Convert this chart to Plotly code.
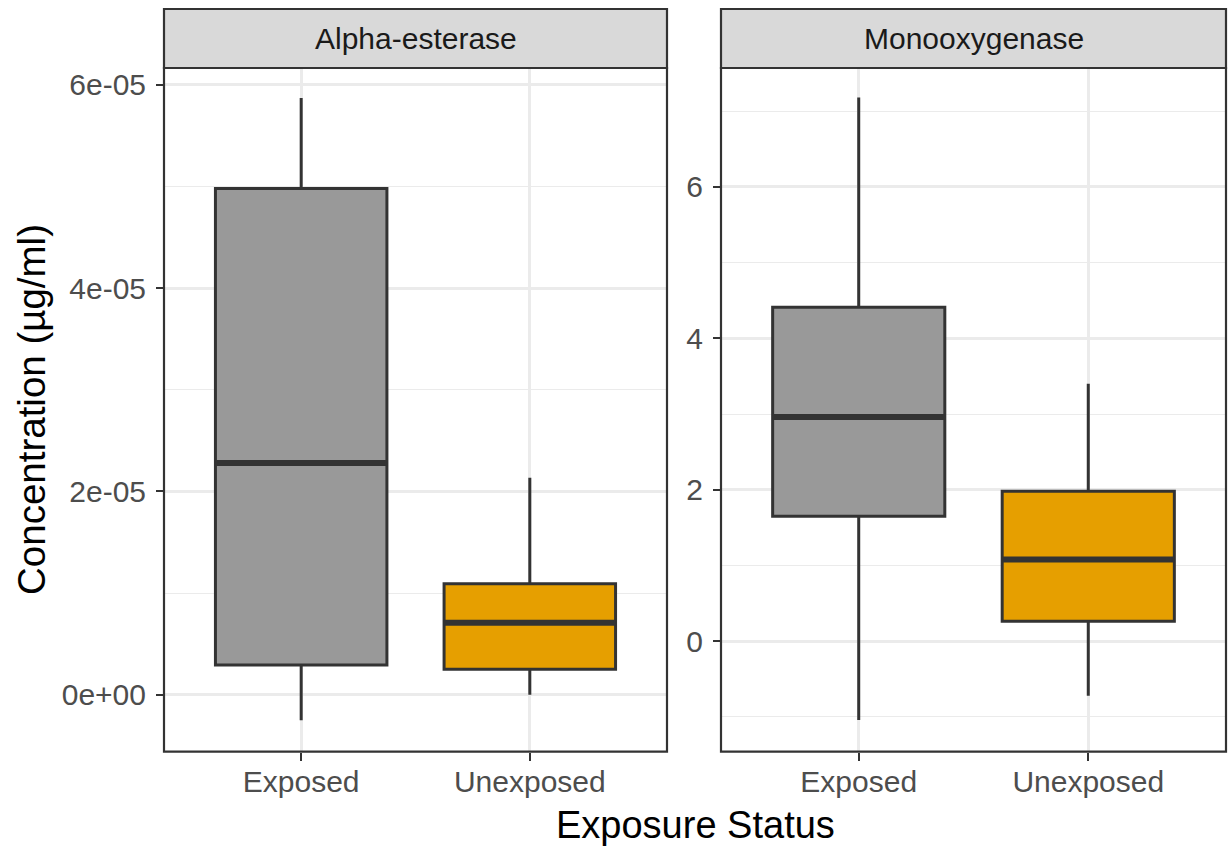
import plotly.graph_objects as go

# Facet panels and exposure groups
panels = ["Alpha-esterase", "Monooxygenase"]
groups = ["Exposed", "Unexposed"]
group_colors = ["#999999", "#E69F00"]

# Box statistics per panel: [Exposed, Unexposed]
alpha_lower = [-2.5e-06, 0.0]
alpha_q1 = [2.92e-06, 2.50e-06]
alpha_median = [2.28e-05, 7.08e-06]
alpha_q3 = [4.98e-05, 1.091e-05]
alpha_upper = [5.87e-05, 2.134e-05]

mono_lower = [-1.04, -0.72]
mono_q1 = [1.65, 0.264]
mono_median = [2.96, 1.08]
mono_q3 = [4.41, 1.98]
mono_upper = [7.18, 3.40]

# Tick labels
alpha_tickvals = [0, 2e-05, 4e-05, 6e-05]
alpha_ticktext = ["0e+00", "2e-05", "4e-05", "6e-05"]
alpha_minor = [1e-05, 3e-05, 5e-05]
mono_tickvals = [0, 2, 4, 6]
mono_ticktext = ["0", "2", "4", "6"]
mono_minor = [-1, 1, 3, 5, 7]

BOX_WIDTH = 0.75
INK = "#333333"
GRID = "#EBEBEB"
FONT = "Liberation Sans, Arial, sans-serif"

fig = go.Figure()

stats = [
    (alpha_lower, alpha_q1, alpha_median, alpha_q3, alpha_upper, "x", "y"),
    (mono_lower, mono_q1, mono_median, mono_q3, mono_upper, "x2", "y2"),
]

for lo, q1, med, q3, hi, xa, ya in stats:
    for i, g in enumerate(groups):
        pos = i + 1
        fig.add_trace(go.Box(
            x=[pos], lowerfence=[lo[i]], q1=[q1[i]], median=[med[i]],
            q3=[q3[i]], upperfence=[hi[i]],
            width=BOX_WIDTH, whiskerwidth=0, boxpoints=False,
            fillcolor=group_colors[i],
            line=dict(color=INK, width=3),
            xaxis=xa, yaxis=ya, showlegend=False, hoverinfo="skip",
            name=g,
        ))
        # heavier median bar, as in ggplot2 boxplots
        fig.add_trace(go.Scatter(
            x=[pos - BOX_WIDTH / 2, pos + BOX_WIDTH / 2], y=[med[i], med[i]],
            mode="lines", line=dict(color=INK, width=6),
            xaxis=xa, yaxis=ya, showlegend=False, hoverinfo="skip",
        ))

W, H = 1230, 846
left_dom = [164 / W, 667 / W]
right_dom = [721 / W, 1226 / W]
y_dom = [1 - 751.7 / H, 1 - 68 / H]

tick_font = dict(family=FONT, size=30, color="#4D4D4D")

def xaxis_cfg(dom, anchor):
    return dict(
        domain=dom, anchor=anchor, range=[0.4, 2.6],
        tickvals=[1, 2], ticktext=groups,
        showgrid=True, gridcolor=GRID, gridwidth=2.5,
        ticks="outside", ticklen=8, tickwidth=2.4, tickcolor=INK,
        tickfont=tick_font, showline=False, zeroline=False,
        ticklabelstandoff=-5,
    )

def yaxis_cfg(anchor, rng, vals, text, minor):
    return dict(
        domain=y_dom, anchor=anchor, range=rng,
        tickvals=vals, ticktext=text,
        showgrid=True, gridcolor=GRID, gridwidth=2.5,
        minor=dict(tickvals=minor, showgrid=True, gridcolor=GRID, gridwidth=1.3),
        ticks="outside", ticklen=7, tickwidth=2.4, tickcolor=INK,
        tickfont=tick_font, showline=False, zeroline=False,
        ticklabelstandoff=4,
    )

fig.update_layout(
    width=W, height=H,
    margin=dict(l=0, r=0, t=0, b=0),
    paper_bgcolor="white", plot_bgcolor="white",
    showlegend=False,
    font=dict(family=FONT),
    xaxis=xaxis_cfg(left_dom, "y"),
    yaxis=yaxis_cfg("x", [-5.6e-06, 6.165e-05], alpha_tickvals, alpha_ticktext, alpha_minor),
    xaxis2=xaxis_cfg(right_dom, "y2"),
    yaxis2=yaxis_cfg("x2", [-1.46, 7.57], mono_tickvals, mono_ticktext, mono_minor),
)

strip_h = 59 / (751.7 - 68)
shapes = []
annotations = []
for title, xr, yr in [(panels[0], "x domain", "y domain"), (panels[1], "x2 domain", "y2 domain")]:
    # panel border
    shapes.append(dict(type="rect", xref=xr, yref=yr, x0=0, x1=1, y0=0, y1=1,
                       line=dict(color=INK, width=2.2), fillcolor="rgba(0,0,0,0)", layer="above"))
    # strip
    shapes.append(dict(type="rect", xref=xr, yref=yr, x0=0, x1=1, y0=1, y1=1 + strip_h,
                       line=dict(color=INK, width=2.2), fillcolor="#D9D9D9", layer="above"))
    annotations.append(dict(text=title, xref=xr, yref=yr, x=0.5, y=1 + strip_h / 2,
                            showarrow=False, xanchor="center", yanchor="middle",
                            font=dict(family=FONT, size=30, color="#1A1A1A")))

annotations.append(dict(text="Exposure Status", xref="paper", yref="paper",
                        x=695 / W, y=1 - 825 / H, showarrow=False,
                        xanchor="center", yanchor="middle",
                        font=dict(family=FONT, size=38, color="black")))
annotations.append(dict(text="Concentration (µg/ml)", xref="paper", yref="paper",
                        x=32 / W, y=1 - 410 / H, showarrow=False, textangle=-90,
                        xanchor="center", yanchor="middle",
                        font=dict(family=FONT, size=38.5, color="black")))

fig.update_layout(shapes=shapes, annotations=annotations)

fig.write_html("out.html")
